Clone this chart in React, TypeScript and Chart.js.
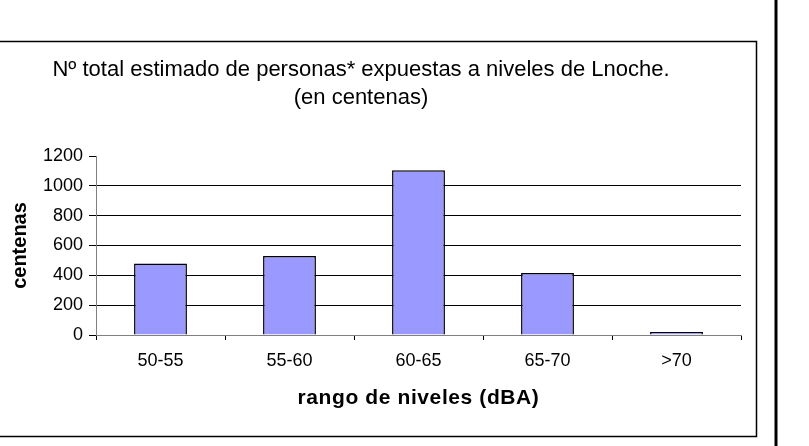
import React, { useEffect, useRef } from "react";
import { Chart, registerables } from "chart.js";

Chart.register(...registerables);

const categories = ["50-55", "55-60", "60-65", "65-70", ">70"];
const values = [480, 530, 1105, 415, 20];
const yTicks = [0, 200, 400, 600, 800, 1000, 1200];
const titleLines = [
  "Nº total estimado de personas* expuestas a niveles de Lnoche.",
  "(en centenas)",
];
const xTitle = "rango de niveles (dBA)";
const yTitle = "centenas";

const FONT = "'Liberation Sans', Arial, sans-serif";

const framePlugin = {
  id: "frame",
  beforeDraw(chart: any) {
    const ctx = chart.ctx;
    ctx.save();
    ctx.fillStyle = "#ffffff";
    ctx.fillRect(0, 0, chart.width, chart.height);
    ctx.restore();
  },
  afterDraw(chart: any) {
    const ctx = chart.ctx;
    const area = chart.chartArea;
    ctx.save();
    // outer box
    ctx.strokeStyle = "#000";
    ctx.lineWidth = 1.5;
    ctx.beginPath();
    ctx.moveTo(0, 41.5);
    ctx.lineTo(756.5, 41.5);
    ctx.lineTo(756.5, 436.5);
    ctx.lineTo(0, 436.5);
    ctx.stroke();
    // right thick line
    ctx.lineWidth = 3;
    ctx.beginPath();
    ctx.moveTo(776, 0);
    ctx.lineTo(776, chart.height);
    ctx.stroke();
    // title
    ctx.fillStyle = "#000";
    ctx.textAlign = "center";
    ctx.textBaseline = "middle";
    ctx.font = `22px ${FONT}`;
    ctx.fillText(titleLines[0], 361, 70);
    ctx.fillText(titleLines[1], 361, 98);
    // x title
    ctx.font = `bold 21px ${FONT}`;
    (ctx as any).letterSpacing = "0.6px";
    ctx.fillText(xTitle, (area.left + area.right) / 2, 398);
    (ctx as any).letterSpacing = "0px";
    // y title
    ctx.translate(20, (area.top + area.bottom) / 2);
    ctx.rotate(-Math.PI / 2);
    ctx.font = `bold 20px ${FONT}`;
    ctx.fillText(yTitle, 0, 0);
    ctx.restore();
  },
};

export default function App() {
  const ref = useRef<HTMLCanvasElement | null>(null);
  useEffect(() => {
    if (!ref.current) return;
    const chart = new Chart(ref.current, {
      type: "bar",
      data: {
        labels: categories,
        datasets: [
          {
            data: values,
            backgroundColor: "#9999FF",
            borderColor: "#000000",
            borderWidth: 1.5,
            categoryPercentage: 1,
            barPercentage: 0.41,
          },
        ],
      },
      options: {
        responsive: false,
        animation: false,
        devicePixelRatio: 1,
        layout: { padding: { left: 0, top: 156, right: 68, bottom: 0 } },
        plugins: {
          legend: { display: false },
          title: { display: false },
          tooltip: { enabled: false },
        },
        scales: {
          x: {
            afterFit(s: any) {
              s.height = 111;
            },
            grid: {
              drawOnChartArea: false,
              tickLength: 5,
              color: "#000",
              offset: true,
            },
            border: { color: "#808080", width: 1 },
            ticks: {
              color: "#000",
              font: { family: FONT, size: 18 },
              padding: 10,
              maxRotation: 0,
            },
          },
          y: {
            min: 0,
            max: 1200,
            afterFit(s: any) {
              s.width = 96;
            },
            afterBuildTicks(s: any) {
              s.ticks = yTicks.map((v) => ({ value: v }));
            },
            grid: {
              tickLength: 7,
              color: (c: any) =>
                c.tick && c.tick.value === 1200
                  ? "rgba(0,0,0,0)"
                  : c.tick && c.tick.value === 0
                  ? "#808080"
                  : "#000",
              tickColor: "#000",
            },
            border: { color: "#808080", width: 1 },
            ticks: {
              color: "#000",
              font: { family: FONT, size: 18 },
              padding: 6,
              callback: (v: any) => String(v),
            },
          },
        },
      },
      plugins: [framePlugin],
    });
    return () => chart.destroy();
  }, []);
  return (
    <div style={{ position: "fixed", left: 0, top: 0, width: 809, height: 446, background: "#fff" }}>
      <canvas ref={ref} width={809} height={446} />
    </div>
  );
}
